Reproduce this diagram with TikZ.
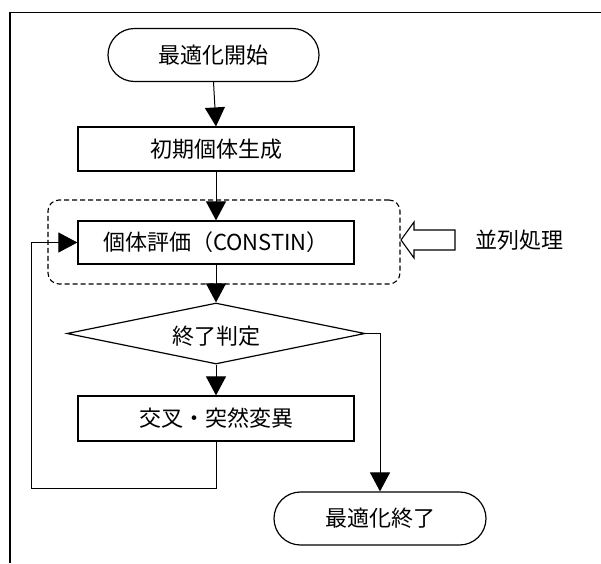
\documentclass[tikz,border=0pt]{standalone}
\usepackage{fontspec}
\setmainfont{Noto Sans CJK JP}
\usetikzlibrary{shapes.geometric,arrows.meta}
\begin{document}
\begin{tikzpicture}[x=1pt,y=-1pt,
  every node/.style={font=\fontsize{22pt}{26pt}\selectfont, inner sep=0pt},
  ln/.style={line width=1.2pt},
  box/.style={ln, draw, rectangle, minimum width=276pt},
  term/.style={ln, draw, rectangle, rounded corners=26.5pt, minimum width=211pt, minimum height=53pt},
  arr/.style={line width=1pt, -{Triangle[length=19pt,width=20pt]}},
  plain/.style={line width=1pt},
  grp/.style={line width=1.1pt, draw, dash pattern=on 5pt off 3pt, rounded corners=11pt, minimum width=352pt, minimum height=84pt}
]
\useasboundingbox (0,0) rectangle (601,563);
% outer frame
\draw[line width=1.3pt] (10,563) -- (10,12.7) -- (601,12.7);

\node[term] (start) at (213.5,55) {最適化開始};
\node[box, minimum height=44pt] (init) at (216,149) {初期個体生成};
\node[grp] (par) at (224,242) {};
\node[box, minimum height=43pt] (eval) at (216,242.5) {個体評価（CONSTIN）};
\node[ln, draw, diamond, aspect=4.9, minimum width=298pt, minimum height=61pt] (judge) at (216,333.5) {};
\node (jtext) at (216,336) {終了判定};
\node[box, minimum height=45pt] (cross) at (216,418.5) {交叉・突然変異};
\node[term, minimum width=212pt] (end) at (380,518.5) {最適化終了};

\node (lbl) at (519,240) {並列処理};
% hollow arrow
\draw[line width=1.1pt] (401,240) -- (414,222) -- (414,230) -- (455,230) -- (455,250) -- (414,250) -- (414,258) -- cycle;

\coordinate (lb) at (31,488);

\draw[arr] (start.south) -- (init.north);
\draw[arr] (init.south) -- (eval.north);
\draw[arr] (eval.south) -- (judge.north);
\draw[arr] (judge.south) -- (cross.north);
\draw[plain] (cross.south) |- (lb);
\draw[arr] (lb) |- (eval.west);
\draw[arr] (judge.east) -| (end.north);
\end{tikzpicture}
\end{document}
